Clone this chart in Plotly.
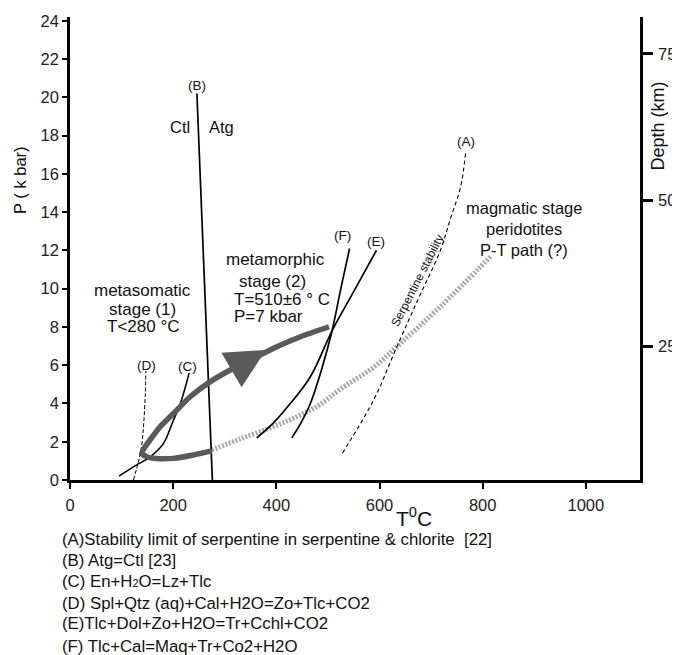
import plotly.graph_objects as go

# ---------------- data (T in °C, P in kbar) ----------------
X_TICKS = [0, 200, 400, 600, 800, 1000]
Y_TICKS = [0, 2, 4, 6, 8, 10, 12, 14, 16, 18, 20, 22, 24]
DEPTH_TICKS = [25, 50, 75]

A_T = [528, 589, 631, 674, 718, 738, 757, 767]
A_P = [1.4, 4.2, 6.8, 9.4, 12.0, 13.7, 15.3, 17.1]
B_T = [276, 246]
B_P = [0.0, 20.2]
C_T = [95, 130, 155, 181, 200, 214, 231]
C_P = [0.2, 0.8, 1.2, 1.9, 3.1, 4.0, 5.6]
D_T = [123, 132, 139, 143, 146, 147]
D_P = [0.0, 0.9, 1.8, 3.0, 4.5, 5.7]
E_T = [362, 395, 421, 466, 508, 551, 594]
E_P = [2.2, 3.0, 3.8, 5.4, 7.8, 9.9, 12.0]
F_T = [430, 448, 466, 488, 508, 525, 542]
F_P = [2.2, 3.0, 4.0, 5.8, 7.8, 10.0, 12.1]

LOOP_T = [275, 239, 201, 168, 150, 139, 146, 155, 175, 201, 233, 272, 317, 356, 401, 447, 502]
LOOP_P = [1.52, 1.31, 1.13, 1.12, 1.2, 1.38, 1.75, 2.09, 2.79, 3.49, 4.35, 5.14, 5.84, 6.36, 6.97, 7.49, 8.01]
ARROW_TIP = (380, 6.8)
ARROW_TAIL = (345, 6.25)

MAG_T = [275, 330, 400, 447, 485, 524, 589, 641, 718, 815]
MAG_P = [1.57, 2.15, 2.85, 3.4, 3.95, 4.75, 5.9, 7.15, 9.06, 11.67]

CURVE_LABELS = [("(A)", 768, 17.7), ("(B)", 246, 20.6), ("(C)", 228, 5.95),
                ("(D)", 149, 6.0), ("(E)", 594, 12.45), ("(F)", 529, 12.8)]

LEGEND_LINES = [
    "(A)Stability limit of serpentine in serpentine &amp; chlorite  [22]",
    "(B) Atg=Ctl [23]",
    "(C) En+H<span style='font-size:11px'>2</span>O=Lz+Tlc",
    "(D) Spl+Qtz (aq)+Cal+H2O=Zo+Tlc+CO2",
    "(E)Tlc+Dol+Zo+H2O=Tr+Cchl+CO2",
    "(F) Tlc+Cal=Maq+Tr+Co2+H2O",
]

FONT = "Liberation Sans"

fig = go.Figure()


def add_line(T, P, color="black", width=1.5, dash="solid", shape="spline", yaxis="y",
             smoothing=1.0):
    fig.add_trace(go.Scatter(x=T, y=P, mode="lines", yaxis=yaxis, hoverinfo="skip",
                             showlegend=False,
                             line=dict(color=color, width=width, dash=dash, shape=shape,
                                       smoothing=smoothing if shape == "spline" else None)))


add_line(MAG_T, MAG_P, color="#a8a8a8", width=5, dash="2px,1.6px")
add_line(A_T, A_P, width=1.1, dash="4px,3px")
add_line(B_T, B_P, width=1.7, shape="linear")
add_line(C_T, C_P, width=1.6)
add_line(D_T, D_P, width=1.0, dash="4px,2px")
add_line(E_T, E_P, width=1.7)
add_line(F_T, F_P, width=1.7)
add_line(LOOP_T, LOOP_P, color="#5a5a5a", width=5.5, smoothing=0.6)
# invisible trace to hold the depth axis
fig.add_trace(go.Scatter(x=[None], y=[None], yaxis="y2", showlegend=False, hoverinfo="skip"))

ann = []
for txt, t, p in CURVE_LABELS:
    ann.append(dict(x=t, y=p, text=txt, showarrow=False, font=dict(size=13.5)))

ann += [
    dict(x=214, y=18.45, text="Ctl", showarrow=False, font=dict(size=16.5)),
    dict(x=293, y=18.45, text="Atg", showarrow=False, font=dict(size=16.5)),
    dict(x=141, y=9.93, text="metasomatic", showarrow=False, font=dict(size=17)),
    dict(x=141, y=8.89, text="stage (1)", showarrow=False, font=dict(size=17)),
    dict(x=141, y=8.0, text="T&lt;280 °C", showarrow=False, font=dict(size=17)),
    dict(x=399, y=11.55, text="metamorphic", showarrow=False, font=dict(size=17)),
    dict(x=392, y=10.35, text="stage (2)", showarrow=False, font=dict(size=17)),
    dict(x=314, y=9.41, text="T=510±6 ° C", showarrow=False, xanchor="left", font=dict(size=17)),
    dict(x=314, y=8.52, text="P=7 kbar", showarrow=False, xanchor="left", font=dict(size=17)),
    dict(x=880, y=14.2, text="magmatic stage", showarrow=False, font=dict(size=16.5)),
    dict(x=880, y=13.1, text="peridotites", showarrow=False, font=dict(size=16.5)),
    dict(x=880, y=12.02, text="P-T path (?)", showarrow=False, font=dict(size=16.5)),
    dict(x=673, y=10.4, text="Serpentine stability", showarrow=False, textangle=-63,
         font=dict(size=12)),
    dict(x=ARROW_TIP[0], y=ARROW_TIP[1], ax=ARROW_TAIL[0], ay=ARROW_TAIL[1],
         axref="x", ayref="y", text="", showarrow=True, arrowhead=2, arrowsize=1.6,
         arrowwidth=5, arrowcolor="#5a5a5a"),
    # axis titles
    dict(xref="paper", yref="paper", x=-0.0877, y=0.648, text="P ( k bar)", textangle=-90,
         xanchor="center", yanchor="middle", showarrow=False, font=dict(size=16.5)),
    dict(xref="paper", yref="paper", x=1.0307, y=0.7646, text="Depth (km)", textangle=-90,
         xanchor="center", yanchor="middle", showarrow=False, font=dict(size=18)),
    dict(xref="paper", yref="paper", x=0.6035, y=-0.0799, text="T<sup>0</sup>C",
         xanchor="center", yanchor="middle", showarrow=False, font=dict(size=21)),
]

leg_y = [-0.1281, -0.1728, -0.2197, -0.2663, -0.3110, -0.3600]
for txt, yy in zip(LEGEND_LINES, leg_y):
    ann.append(dict(xref="paper", yref="paper", x=-0.0175, y=yy, xanchor="left",
                    yanchor="middle", text=txt, showarrow=False, font=dict(size=16.8)))

axis_common = dict(showline=True, linewidth=2.5, linecolor="black", ticks="outside",
                   tickcolor="black", showgrid=False, zeroline=False,
                   tickfont=dict(size=16.5, color="#222"))

# the page body adds an 8px offset, so the figure is drawn 8px smaller
fig.update_layout(
    width=672, height=647,
    margin=dict(l=62, r=40, t=9, b=175, autoexpand=False),
    paper_bgcolor="white", plot_bgcolor="white",
    showlegend=False,
    font=dict(family=FONT, size=16, color="#111"),
    xaxis=dict(range=[0, 1105], tickvals=X_TICKS, ticklen=6, tickwidth=2,
               ticklabelstandoff=2, **axis_common),
    yaxis=dict(range=[0, 24.2], tickvals=Y_TICKS, ticklen=5, tickwidth=2, **axis_common),
    yaxis2=dict(overlaying="y", side="right", range=[2.23, 81.3], tickvals=DEPTH_TICKS,
                ticklen=10, tickwidth=2.5, ticklabelstandoff=2, **axis_common),
    annotations=ann,
)

fig.write_html("out.html")
